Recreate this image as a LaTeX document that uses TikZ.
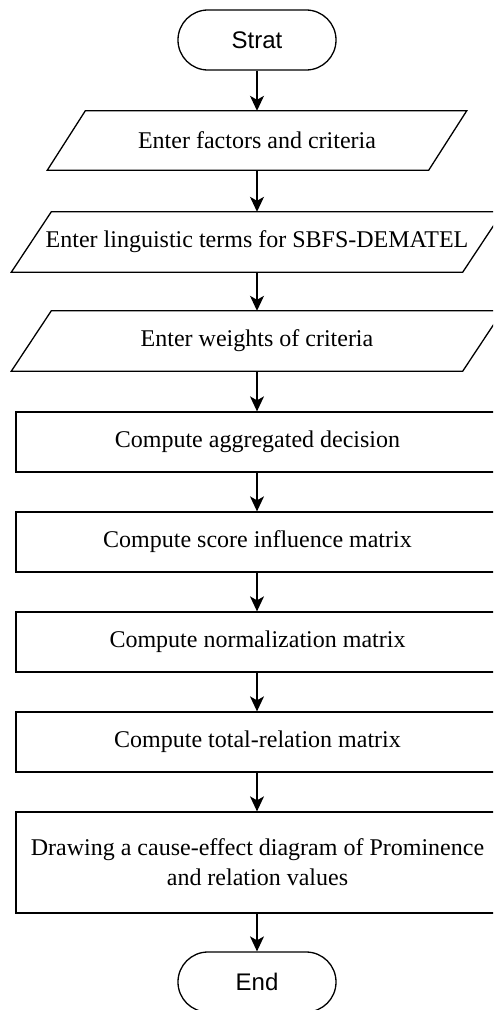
\documentclass[tikz,border=0pt]{standalone}
\usepackage{fontspec}
\setmainfont{Liberation Serif}
\setsansfont{Liberation Sans}
\usetikzlibrary{arrows.meta}
\tikzset{
  lw/.style={line width=1.3pt},
  term/.style={draw, lw, rounded corners=29.9pt, minimum width=158pt, minimum height=60pt,
    font=\sffamily\fontsize{24}{28}\selectfont, inner sep=0pt},
  io/.style={font=\fontsize{24}{29}\selectfont, inner sep=0pt},
  proc/.style={draw, lw, minimum width=483pt, minimum height=60pt,
    font=\fontsize{24}{30}\selectfont, align=center, inner sep=0pt},
  flow/.style={lw, -{Stealth[length=15pt,width=14pt,inset=4pt]}},
}
\begin{document}
\begin{tikzpicture}[x=1pt,y=-1pt]
\useasboundingbox (0,0) rectangle (493,1010);
\clip (0,0) rectangle (493,1010);

\node[term] (start) at (257,40) {Strat};

\node[io, minimum width=381pt, minimum height=59pt] (p1) at (257,140.5) {Enter factors and criteria};
\draw[lw] ([xshift=-19pt]p1.south west) -- ([xshift=-19pt]p1.south east) -- ([xshift=19pt]p1.north east) -- ([xshift=19pt]p1.north west) -- cycle;

\node[io, minimum width=451pt, minimum height=60pt] (p2) at (257,242) {Enter linguistic terms for SBFS-DEMATEL};
\draw[lw] ([xshift=-20pt]p2.south west) -- ([xshift=-20pt]p2.south east) -- ([xshift=20pt]p2.north east) -- ([xshift=20pt]p2.north west) -- cycle;

\node[io, minimum width=451pt, minimum height=60pt] (p3) at (257,341) {Enter weights of criteria};
\draw[lw] ([xshift=-20pt]p3.south west) -- ([xshift=-20pt]p3.south east) -- ([xshift=20pt]p3.north east) -- ([xshift=20pt]p3.north west) -- cycle;

\node[proc] (r1) at (257.5,442) {Compute aggregated decision};
\node[proc] (r2) at (257.5,542) {Compute score influence matrix};
\node[proc] (r3) at (257.5,642) {Compute normalization matrix};
\node[proc] (r4) at (257.5,742) {Compute total-relation matrix};
\node[proc, minimum height=101pt] (r5) at (257.5,862.5) {Drawing a cause-effect diagram of Prominence\\and relation values};

\node[term] (end) at (257,982) {End};

\draw[flow] (start.south) -- (p1.north);
\draw[flow] (p1.south) -- (p2.north);
\draw[flow] (p2.south) -- (p3.north);
\draw[flow] (p3.south) -- (p3.south |- r1.north);
\draw[flow] (p3.south |- r1.south) -- (p3.south |- r2.north);
\draw[flow] (p3.south |- r2.south) -- (p3.south |- r3.north);
\draw[flow] (p3.south |- r3.south) -- (p3.south |- r4.north);
\draw[flow] (p3.south |- r4.south) -- (p3.south |- r5.north);
\draw[flow] (p3.south |- r5.south) -- (end.north);
\end{tikzpicture}
\end{document}
